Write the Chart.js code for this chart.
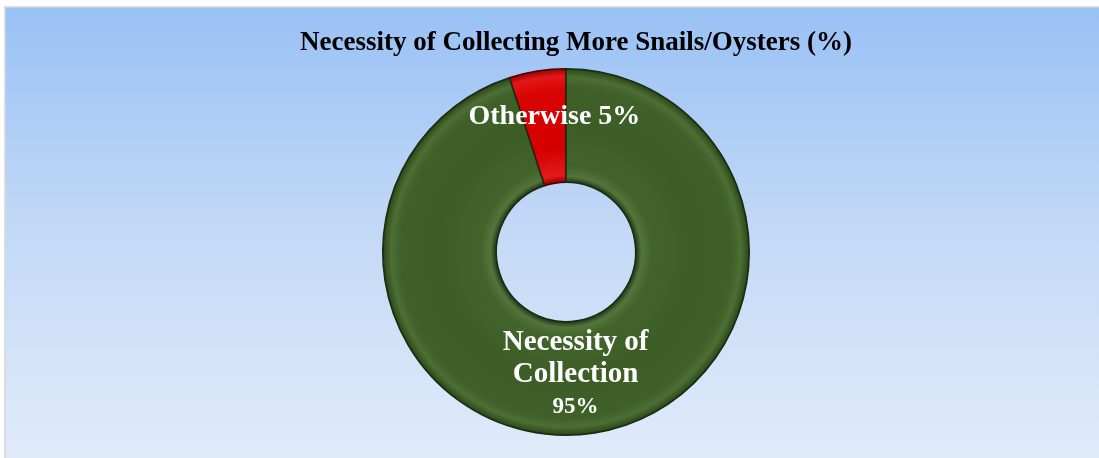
<!DOCTYPE html>
<html>
<head>
<meta charset="utf-8">
<script src="https://cdn.jsdelivr.net/npm/chart.js@4.4.1/dist/chart.umd.min.js"></script>
<style>
  html, body { margin: 0; padding: 0; background: #ffffff; }
  #wrap { width: 1099px; height: 458px; position: relative; }
</style>
</head>
<body>
<div id="wrap"><canvas id="c" width="1099" height="458"></canvas></div>
<script>
// Survey answers (percent)
const categories = ['Otherwise', 'Necessity of Collection'];
const shares = [5, 95];
const sliceLabels = [['Otherwise 5%'], ['Necessity of', 'Collection', '95%']];
const chartTitle = 'Necessity of Collecting More Snails/Oysters (%)';

const SERIF = '"Liberation Serif", "Times New Roman", Times, serif';
const CUTOUT = 0.38;

// Radial shading for each ring slice so it reads as a rounded tube
function ringFill(ctx, stops) {
  const chart = ctx.chart;
  const a = chart.chartArea;
  if (!a) return stops[2][1];
  const x = (a.left + a.right) / 2;
  const y = (a.top + a.bottom) / 2;
  const outer = Math.min(a.right - a.left, a.bottom - a.top) / 2;
  const inner = outer * CUTOUT;
  const g = chart.ctx.createRadialGradient(x, y, inner, x, y, outer);
  stops.forEach(s => g.addColorStop(s[0], s[1]));
  return g;
}
const redStops = [[0, '#8e0000'], [0.06, '#e41a1a'], [0.3, '#d40000'], [0.8, '#d80404'], [0.93, '#e41818'], [1, '#8a0000']];
const greenStops = [[0, '#22361a'], [0.05, '#52753a'], [0.14, '#42642b'], [0.5, '#3d5d26'], [0.84, '#3f6028'], [0.92, '#4b6f35'], [0.975, '#34501e'], [1, '#1b2b12']];

const backdrop = {
  id: 'backdrop',
  beforeDraw(chart) {
    const c = chart.ctx;
    const W = chart.width, H = chart.height;
    c.save();
    c.fillStyle = '#ffffff';
    c.fillRect(0, 0, W, H);
    const g = c.createLinearGradient(0, 7, 0, H);
    g.addColorStop(0, '#99c1f5');
    g.addColorStop(0.5, '#c3d9f6');
    g.addColorStop(1, '#e0ebfa');
    c.fillStyle = g;
    c.fillRect(5, 7, W - 5, H - 7);
    c.strokeStyle = '#d6d6d6';
    c.lineWidth = 1.5;
    c.beginPath();
    c.moveTo(5, H);
    c.lineTo(5, 7);
    c.lineTo(W, 7);
    c.stroke();
    // title
    c.fillStyle = '#000000';
    c.font = 'bold 27px ' + SERIF;
    c.textAlign = 'center';
    c.textBaseline = 'middle';
    c.fillText(chartTitle, 576, 43);
    c.restore();
  }
};

const sliceText = {
  id: 'sliceText',
  afterDatasetsDraw(chart) {
    const c = chart.ctx;
    const meta = chart.getDatasetMeta(0);
    const layouts = [
      { r: 0.6, dx: 10, dy: 1, sizes: [28], gap: 30 },
      { r: 0.66, dx: -13, dy: -20, sizes: [29, 29, 23], gap: 32 }
    ];
    c.save();
    c.fillStyle = '#ffffff';
    c.textAlign = 'center';
    c.textBaseline = 'middle';
    meta.data.forEach((arc, i) => {
      const p = arc.getProps(['x', 'y', 'startAngle', 'endAngle', 'innerRadius', 'outerRadius'], true);
      const L = layouts[i];
      const mid = (p.startAngle + p.endAngle) / 2;
      const rad = p.innerRadius + (p.outerRadius - p.innerRadius) * L.r;
      const cx = p.x + Math.cos(mid) * rad + L.dx;
      const cy = p.y + Math.sin(mid) * rad + L.dy;
      const lines = sliceLabels[i];
      const top = cy - (lines.length - 1) * L.gap / 2;
      lines.forEach((t, k) => {
        c.font = 'bold ' + L.sizes[k] + 'px ' + SERIF;
        c.fillText(t, cx, top + k * L.gap);
      });
    });
    c.restore();
  }
};

new Chart(document.getElementById('c'), {
  type: 'doughnut',
  data: {
    labels: categories,
    datasets: [{
      data: shares,
      backgroundColor: (ctx) => ringFill(ctx, ctx.dataIndex === 0 ? redStops : greenStops),
      borderColor: ['#4a0000', '#1a2a10'],
      borderWidth: 1.5,
      hoverOffset: 0
    }]
  },
  options: {
    responsive: false,
    animation: false,
    rotation: -18,
    cutout: (CUTOUT * 100) + '%',
    layout: { padding: { top: 68, bottom: 22, left: 100, right: 67 } },
    plugins: {
      legend: { display: false },
      title: { display: false },
      tooltip: { enabled: false }
    }
  },
  plugins: [backdrop, sliceText]
});
</script>
</body>
</html>
